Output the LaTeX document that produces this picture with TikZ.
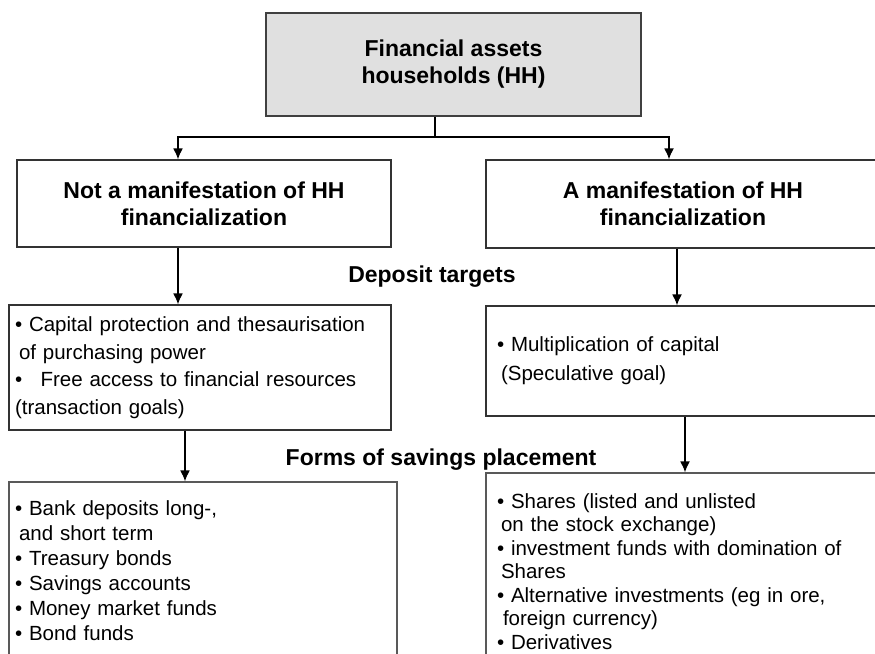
\documentclass[tikz,border=0pt]{standalone}
\usepackage{fontspec}
\setmainfont{Liberation Sans}
\usetikzlibrary{arrows.meta}
\begin{document}
\begin{tikzpicture}
  [x=1pt,y=-1pt,
   every node/.style={draw=black!80,line width=1.1pt,inner sep=0pt},
   head/.style={font=\bfseries\fontsize{23}{27}\selectfont,align=center},
   list/.style={align=left,inner xsep=6pt},
   lbl/.style={draw=none,font=\bfseries\fontsize{23}{27}\selectfont},
   conn/.style={line width=1.8pt,-{Latex[length=11pt,width=10pt]}}]
  \clip (0,0) rectangle (875,653);
  % top level
  \node[head,fill=black!12,draw=black!75,minimum width=375pt,minimum height=103pt] (fa) at (453.5,64.5) {Financial assets\\households (HH)};
  \node[head,minimum width=374pt,minimum height=87pt] (noL) at (204,203.5) {Not a manifestation of HH\\financialization};
  \node[head,minimum width=394pt,minimum height=88pt] (noR) at (683,204) {A manifestation of HH\\financialization};
  % deposit targets
  \node[list,font=\fontsize{20.5}{27.5}\selectfont,text width=370pt,minimum height=125pt] (tgtL) at (200,367.5) {• Capital protection and thesaurisation\\
    \hspace*{4pt}of purchasing power\\
    •\hspace*{0.9em}Free access to financial resources\\
    (transaction goals)};
  \node[list,font=\fontsize{20.5}{29}\selectfont,text width=372pt,inner xsep=11pt,minimum height=110pt] (tgtR) at (683,361) {• Multiplication of capital\\
    \hspace*{4pt}(Speculative goal)};
  % forms of savings
  \node[list,font=\fontsize{20.5}{25}\selectfont,text width=376pt,minimum height=177pt,draw=black!65] (savL) at (203,570.5) {• Bank deposits long-,\\
    \hspace*{4pt}and short term\\
    • Treasury bonds\\
    • Savings accounts\\
    • Money market funds\\
    • Bond funds};
  \node[list,font=\fontsize{20.5}{23.5}\selectfont,text width=372pt,inner xsep=11pt,minimum height=197pt,draw=black!65] (savR) at (683,571.5) {• Shares (listed and unlisted\\
    \hspace*{4pt}on the stock exchange)\\
    • investment funds with domination of\\
    \hspace*{4pt}Shares\\
    • Alternative investments (eg in ore,\\
    \hspace*{6pt}foreign currency)\\
    • Derivatives};
  \node[lbl] (dep) at (432,277) {Deposit targets};
  \node[lbl] (forms) at (441,460) {Forms of savings placement};

  \coordinate (split) at (435,137);
  \draw[line width=1.8pt] ([xshift=-18.5pt]fa.south) -- (split);
  \draw[conn] (split) -| ([xshift=-26pt]noL.north);
  \draw[conn] (split) -| ([xshift=-14pt]noR.north);
  \draw[conn] ([xshift=-26pt]noL.south) -- ([xshift=-22pt]tgtL.north);
  \draw[conn] ([xshift=-6pt]noR.south) -- ([xshift=-6pt]tgtR.north);
  \draw[conn] ([xshift=-15pt]tgtL.south) -- ([xshift=-18pt]savL.north);
  \draw[conn] ([xshift=2pt]tgtR.south) -- ([xshift=2pt]savR.north);
\end{tikzpicture}
\end{document}
